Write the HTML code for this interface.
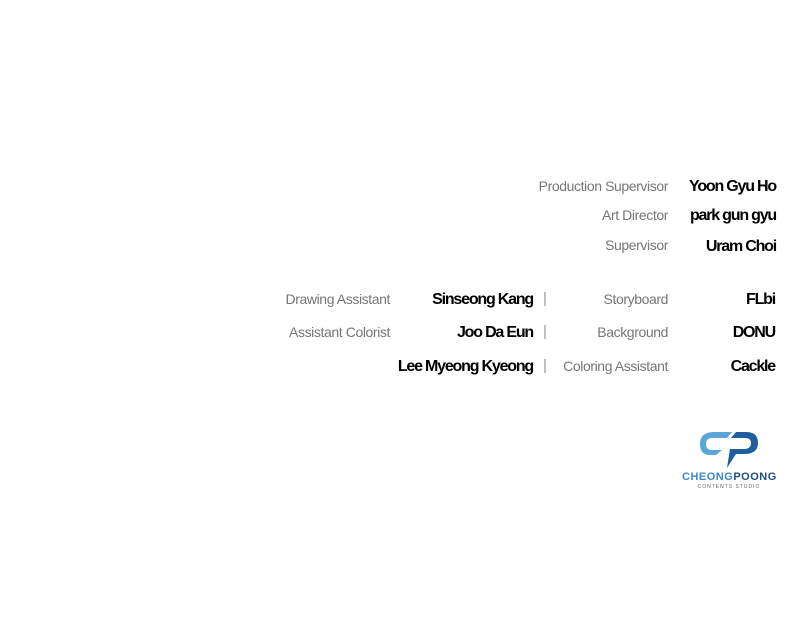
<!DOCTYPE html>
<html><head><style>
body{margin:0;width:800px;height:642px;background:#fff;position:relative;overflow:hidden;font-family:"Liberation Sans",sans-serif}
.l,.n,.b{position:absolute;white-space:nowrap;line-height:20px}
.l{color:#777;font-size:14px;letter-spacing:-0.4px}
.n{color:#000;font-size:16px;font-weight:bold;letter-spacing:-1.2px}
.b{color:#999;font-size:15px}
</style></head><body>
<div class="l" style="right:132px;top:176px">Production Supervisor</div>
<div class="n" style="right:24px;top:177px">Yoon Gyu Ho</div>
<div class="l" style="right:132px;top:205px">Art Director</div>
<div class="n" style="right:24px;top:206px">park gun gyu</div>
<div class="l" style="right:132px;top:235px">Supervisor</div>
<div class="n" style="right:24px;top:237px">Uram Choi</div>

<div class="l" style="right:410px;top:289px">Drawing Assistant</div>
<div class="n" style="right:267px;top:290px">Sinseong Kang</div>
<div class="b" style="left:543px;top:289px">|</div>
<div class="l" style="right:132px;top:289px">Storyboard</div>
<div class="n" style="right:25px;top:290px">FLbi</div>

<div class="l" style="right:410px;top:322px">Assistant Colorist</div>
<div class="n" style="right:267px;top:323px">Joo Da Eun</div>
<div class="b" style="left:543px;top:322px">|</div>
<div class="l" style="right:132px;top:322px">Background</div>
<div class="n" style="right:25px;top:323px">DONU</div>

<div class="n" style="right:267px;top:357px">Lee Myeong Kyeong</div>
<div class="b" style="left:543px;top:356px">|</div>
<div class="l" style="right:132px;top:356px">Coloring Assistant</div>
<div class="n" style="right:25px;top:357px">Cackle</div>

<svg style="position:absolute;left:680px;top:428px" width="100" height="65">
<path d="M34 4 H52 L47 10 H32 Q26 10 26 16 Q26 22 32 22 H42 L36 27 H30 Q20 27 20 16 Q20 4 34 4Z" fill="#5aa6d8"/>
<path d="M56 4 H66 Q78 4 78 15 Q78 26 64 26 H56 L47 40 L50 21 H64 Q71 21 71 15 Q71 10 65 10 H51Z" fill="#1f5f9e"/>
<text x="49" y="52" text-anchor="middle" font-family="Liberation Sans" font-weight="bold" font-size="11" fill="#3a8ac8" letter-spacing="-0.3" textLength="94">CHEONG<tspan fill="#1f4f86">POONG</tspan></text>
<text x="49" y="60" text-anchor="middle" font-family="Liberation Sans" font-size="5" fill="#666" letter-spacing="1">CONTENTS STUDIO</text>
</svg>
</body></html>
